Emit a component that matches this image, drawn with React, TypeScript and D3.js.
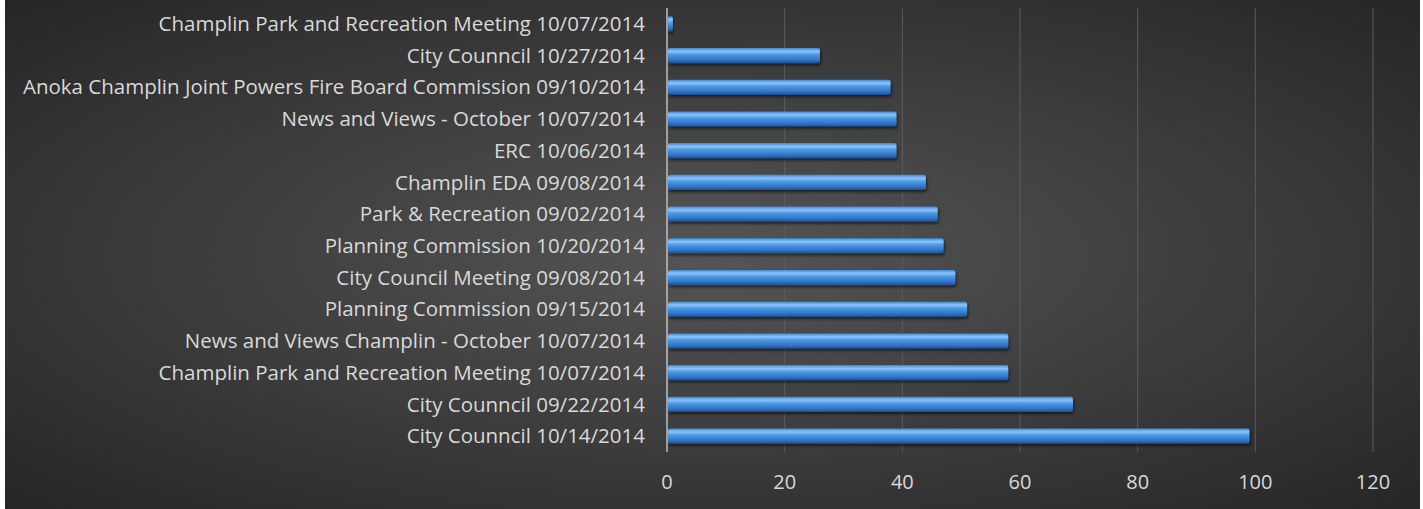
import React, { useRef, useEffect } from 'react';
import * as d3 from 'd3';

// categories listed top to bottom, as shown in the chart
const meetings = [
  'Champlin Park and Recreation Meeting 10/07/2014',
  'City Counncil 10/27/2014',
  'Anoka Champlin Joint Powers Fire Board Commission 09/10/2014',
  'News and Views - October 10/07/2014',
  'ERC 10/06/2014',
  'Champlin EDA 09/08/2014',
  'Park & Recreation 09/02/2014',
  'Planning Commission 10/20/2014',
  'City Council Meeting 09/08/2014',
  'Planning Commission 09/15/2014',
  'News and Views Champlin - October 10/07/2014',
  'Champlin Park and Recreation Meeting 10/07/2014 ',
  'City Counncil 09/22/2014',
  'City Counncil 10/14/2014',
];
const views = [1, 26, 38, 39, 39, 44, 46, 47, 49, 51, 58, 58, 69, 99];
const xTicks = [0, 20, 40, 60, 80, 100, 120];

const W = 1423;
const H = 509;
const FONT = "'Open Sans', sans-serif";

const App = () => {
  const svgRef = useRef<SVGSVGElement>(null);

  useEffect(() => {
    document.body.style.margin = '0';
    const svg = d3.select(svgRef.current);
    svg.selectAll('*').remove();

    const margin = { top: 8, right: 50, bottom: 57, left: 667 };
    const width = 1373 - margin.left;
    const height = H - margin.top - margin.bottom;

    const defs = svg.append('defs');

    // dark radial background
    const bg = defs.append('radialGradient')
      .attr('id', 'bg')
      .attr('cx', '50%').attr('cy', '50%').attr('r', '70%')
      .attr('gradientUnits', 'objectBoundingBox');
    bg.append('stop').attr('offset', '0%').attr('stop-color', '#555555');
    bg.append('stop').attr('offset', '100%').attr('stop-color', '#262626');

    // cylinder look for the bars
    const barGrad = defs.append('linearGradient')
      .attr('id', 'bar')
      .attr('x1', 0).attr('y1', 0).attr('x2', 0).attr('y2', 1);
    barGrad.append('stop').attr('offset', '0%').attr('stop-color', '#3f86d6');
    barGrad.append('stop').attr('offset', '22%').attr('stop-color', '#8cc4f8');
    barGrad.append('stop').attr('offset', '45%').attr('stop-color', '#4a97e6');
    barGrad.append('stop').attr('offset', '80%').attr('stop-color', '#2f72c4');
    barGrad.append('stop').attr('offset', '100%').attr('stop-color', '#1b4f8f');

    const shadow = defs.append('filter').attr('id', 'shadow')
      .attr('x', '-5%').attr('y', '-50%').attr('width', '110%').attr('height', '200%');
    shadow.append('feDropShadow')
      .attr('dx', 1).attr('dy', 2).attr('stdDeviation', 1.5)
      .attr('flood-color', '#000').attr('flood-opacity', 0.6);

    svg.append('rect')
      .attr('width', W).attr('height', H).attr('fill', '#fff');
    svg.append('rect')
      .attr('x', 5).attr('width', 1415).attr('height', H)
      .attr('fill', 'url(#bg)');

    const g = svg.append('g')
      .attr('transform', `translate(${margin.left},${margin.top})`);

    const xScale = d3.scaleLinear().domain([0, 120]).range([0, width]);
    const yScale = d3.scaleBand<number>()
      .domain(d3.range(meetings.length))
      .range([0, height])
      .paddingInner(0.52)
      .paddingOuter(0.26);

    // gridlines
    g.selectAll('.grid')
      .data(xTicks.slice(1))
      .enter()
      .append('line')
      .attr('class', 'grid')
      .attr('x1', d => xScale(d)).attr('x2', d => xScale(d))
      .attr('y1', 0).attr('y2', height)
      .attr('stroke', '#5c5c5c')
      .attr('stroke-width', 1);

    // bars
    g.selectAll('.bar')
      .data(views)
      .enter()
      .append('rect')
      .attr('class', 'bar')
      .attr('x', 1)
      .attr('y', (d, i) => yScale(i)!)
      .attr('width', d => Math.max(0, xScale(d) - 1))
      .attr('height', yScale.bandwidth())
      .attr('rx', 2)
      .attr('fill', 'url(#bar)')
      .attr('filter', 'url(#shadow)');

    // category axis line
    g.append('line')
      .attr('x1', 0).attr('x2', 0)
      .attr('y1', 0).attr('y2', height)
      .attr('stroke', '#bfbfbf')
      .attr('stroke-width', 1.5);

    // category labels
    g.selectAll('.cat')
      .data(meetings)
      .enter()
      .append('text')
      .attr('class', 'cat')
      .attr('x', -22)
      .attr('y', (d, i) => yScale(i)! + yScale.bandwidth() / 2)
      .attr('dy', '0.35em')
      .attr('text-anchor', 'end')
      .style('font-family', FONT)
      .style('font-size', '20.5px')
      .style('fill', '#d9d9d9')
      .text(d => d.trim());

    // x tick labels
    g.selectAll('.tick-label')
      .data(xTicks)
      .enter()
      .append('text')
      .attr('class', 'tick-label')
      .attr('x', d => xScale(d))
      .attr('y', height + 30)
      .attr('dy', '0.35em')
      .attr('text-anchor', 'middle')
      .style('font-family', FONT)
      .style('font-size', '20px')
      .style('fill', '#d9d9d9')
      .text(d => d);
  }, []);

  return (
    <svg ref={svgRef} width={W} height={H} style={{ display: 'block' }}></svg>
  );
};

export default App;
